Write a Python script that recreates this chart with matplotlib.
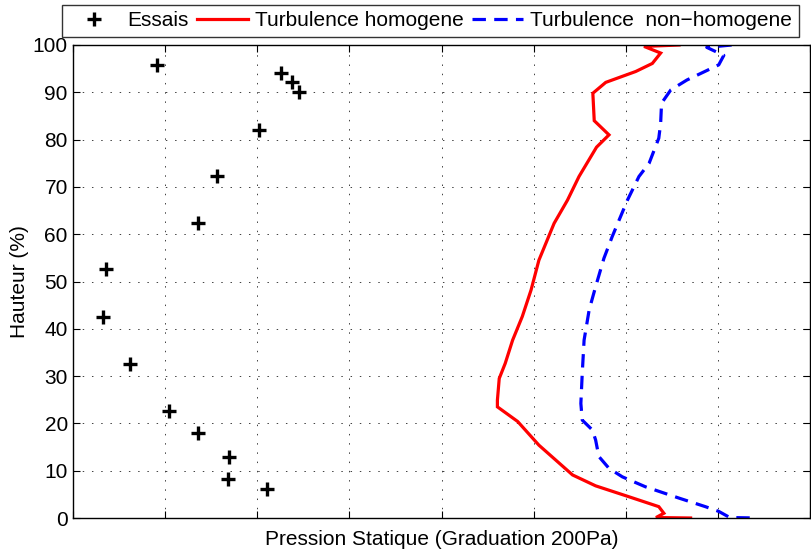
import matplotlib
matplotlib.use("Agg")
import matplotlib.pyplot as plt
from matplotlib.lines import Line2D

plt.rcParams['font.family'] = ['Liberation Sans', 'DejaVu Sans']

# Measured points (static pressure in Pa, height in %)
essais_p = [182, 452, 475, 490, 403, 313, 272, 72, 65, 125, 208, 272, 340, 337, 421]
essais_h = [95.8, 94.0, 92.1, 90.0, 82.0, 72.3, 62.4, 52.6, 42.4, 32.6, 22.7, 17.9, 12.8, 8.2, 6.1]

# Homogeneous turbulence profile
homo_p = [1315, 1239, 1275, 1257, 1221, 1156, 1128, 1131, 1163, 1136, 1098, 1073, 1044,
          1011, 994, 975, 954, 938, 925, 921, 921, 965, 1011, 1084, 1134, 1206, 1271,
          1282, 1265, 1340]
homo_h = [100, 99.7, 98.3, 96.1, 94.4, 92.1, 89.8, 84.0, 81.0, 78.4, 72.2, 67.2, 62.3,
          54.5, 48.2, 42.6, 37.6, 32.7, 29.5, 24.9, 23.5, 20.4, 15.4, 9.1, 6.8, 4.5, 2.4,
          1.0, 0.1, 0.0]

# Non-homogeneous turbulence profile
nonhomo_p = [1429, 1375, 1412, 1401, 1332, 1297, 1277, 1275, 1271, 1250, 1228, 1203, 1185,
             1170, 1152, 1134, 1120, 1109, 1105, 1102, 1105, 1127, 1134, 1141, 1163, 1192,
             1242, 1315, 1372, 1401, 1425, 1483]
nonhomo_h = [100, 99.5, 97.8, 95.8, 92.6, 90.5, 87.7, 83.4, 80.3, 75.0, 72.2, 67.2, 63.0,
             59.5, 54.9, 48.9, 44.0, 37.6, 30.6, 24.2, 20.7, 18.6, 16.5, 13.0, 10.5, 8.7,
             6.6, 4.2, 2.4, 1.4, 0.1, 0.0]

x_ticks = list(range(0, 1601, 200))
y_ticks = list(range(0, 101, 10))

FS = 15
DASH = (0, (4.2, 2.6))

fig = plt.figure(figsize=(8.11, 5.54), dpi=100)
ax = fig.add_axes([72.7 / 811, 1 - 518 / 554, (810.5 - 72.7) / 811, (518 - 45) / 554])

ax.plot(essais_p, essais_h, linestyle='none', marker='+', color='black',
        markersize=10.5, markeredgewidth=2.4, label='Essais')
ax.plot(homo_p, homo_h, color='#ff0000', lw=2.3, label='Turbulence homogene',
        solid_joinstyle='miter')
ax.plot(nonhomo_p, nonhomo_h, color='#0000ff', lw=2.3, linestyle=DASH,
        label='Turbulence  non\u2212homogene')

ax.set_xlim(0, 1600)
ax.set_ylim(0, 100)
ax.set_xticks(x_ticks)
ax.set_xticklabels([])
ax.set_yticks(y_ticks)
ax.tick_params(axis='both', direction='in', length=5, width=0.8, top=True, right=True,
               labelsize=FS, colors='black', pad=3.5)
ax.grid(True, color='0.25', linestyle=(0, (1.5, 8)), lw=0.7)
for s in ax.spines.values():
    s.set_linewidth(1.0)
    s.set_color('black')

ax.set_xlabel('Pression Statique (Graduation 200Pa)', fontsize=FS, labelpad=5)
ax.set_ylabel('Hauteur (%)', fontsize=FS, labelpad=3)

handles = [
    Line2D([], [], linestyle='none', marker='+', color='black', markersize=10, markeredgewidth=2.4),
    Line2D([], [], color='#ff0000', lw=2.3),
    Line2D([], [], color='#0000ff', lw=2.3, linestyle=DASH),
]
labels = ['Essais', 'Turbulence homogene', 'Turbulence  non\u2212homogene']
leg = fig.legend(handles, labels, ncol=3, loc='center', bbox_to_anchor=(430.5 / 811, 1 - 21 / 554),
                 fontsize=FS, frameon=True, fancybox=False, edgecolor='black',
                 handlelength=2.45, handletextpad=0.35, columnspacing=0.4, borderpad=0.3,
                 borderaxespad=0)
leg.get_frame().set_linewidth(1.0)

fig.savefig('out.png', dpi=100)
